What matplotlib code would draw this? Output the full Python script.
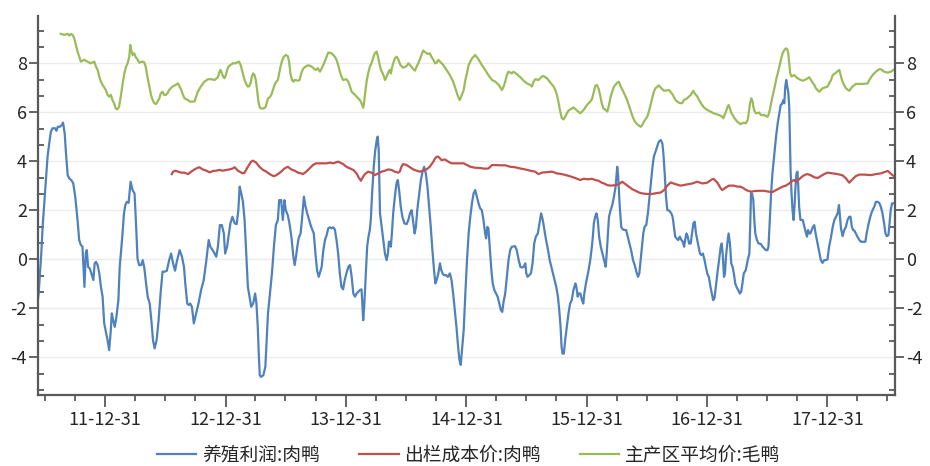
import matplotlib
matplotlib.use('Agg')
import matplotlib.pyplot as plt
from matplotlib.ticker import MultipleLocator
import matplotlib.dates as mdates
import numpy as np
import pandas as pd

plt.rcParams['font.family'] = ['Noto Sans CJK SC', 'DejaVu Sans']
plt.rcParams['axes.unicode_minus'] = False

# day offsets are counted from this date
start = pd.Timestamp('2011-06-04')

# 养殖利润:肉鸭
profit_day = [
    3, 8, 12, 16, 20, 25, 30, 35, 40, 45, 50, 58, 62, 66, 72, 78, 82, 87, 91, 96,
    101, 109, 113, 119, 126, 131, 136, 141, 144, 147, 151, 154, 158, 163, 168, 174, 178, 182, 187, 192,
    197, 202, 207, 212, 217, 222, 227, 230, 234, 239, 244, 250, 254, 261, 267, 271, 276, 281, 287, 293,
    299, 303, 308, 313, 319, 324, 329, 334, 339, 345, 350, 355, 360, 366, 372, 378, 384, 390, 397, 404,
    410, 416, 422, 427,
    431, 436, 443, 449, 453, 459, 463, 468, 473, 479, 486, 493, 501, 509, 517, 524, 529, 536, 542, 547,
    552, 558, 564, 570, 574, 580, 584, 590, 596, 603, 609, 614, 618, 623, 628, 633, 638, 643, 648, 653,
    659, 665, 669, 673, 676, 679, 683, 690, 696, 700, 704, 710, 716, 722, 728, 734, 738, 744, 749, 754,
    758, 764, 769, 775, 781, 785, 789, 793, 797, 803, 807, 813, 818, 823, 829, 835, 843, 848, 853, 858,
    867, 872, 877, 882, 887, 892, 897, 902, 907, 912, 917, 922, 927, 932, 937, 942, 948, 953, 958, 963,
    968, 973, 978, 983, 988, 993, 996, 1001, 1005, 1009, 1013, 1016, 1020, 1025, 1029, 1034, 1037, 1040, 1044, 1049,
    1054, 1059, 1064, 1068, 1071, 1074, 1077, 1080, 1084, 1089, 1094, 1098, 1102, 1107, 1112, 1118, 1125, 1130, 1135, 1140,
    1144, 1149, 1153, 1157, 1163, 1168, 1173, 1178, 1183, 1188, 1193, 1198, 1203, 1208, 1212, 1216, 1221, 1226, 1230, 1234,
    1238, 1244, 1250, 1256, 1261, 1266, 1271, 1276, 1281, 1285, 1289,
    1298, 1303, 1308, 1313, 1318, 1323, 1328, 1333, 1338, 1343, 1348, 1353, 1358, 1363, 1366, 1370, 1373, 1377, 1382, 1386,
    1391, 1396, 1401, 1406, 1411, 1415, 1419, 1424, 1429, 1434, 1439, 1444, 1454, 1459, 1465, 1470, 1475, 1480, 1485, 1488,
    1492, 1497, 1502, 1507, 1512, 1517, 1523, 1528, 1533, 1538, 1543, 1548, 1554, 1559, 1564, 1569, 1574, 1579, 1584, 1588,
    1592, 1595, 1598, 1602, 1606, 1611, 1616, 1621, 1626, 1631, 1637, 1640, 1644, 1647, 1652, 1657, 1661, 1664, 1669, 1673,
    1677, 1682, 1687, 1690, 1693, 1697, 1701, 1705, 1709, 1714, 1719,
    1724, 1729, 1732, 1736, 1739, 1744, 1749, 1754, 1759, 1764, 1767, 1771, 1776, 1781, 1786, 1791, 1796, 1801, 1806, 1812,
    1817, 1822, 1827, 1831, 1835, 1839, 1843, 1847, 1852, 1857, 1862, 1867, 1871, 1875, 1880, 1885, 1890, 1896, 1901, 1904,
    1908, 1912, 1916, 1922, 1928, 1932, 1936, 1940, 1944, 1949, 1954, 1959, 1963, 1967, 1970, 1974, 1978, 1982, 1987, 1991,
    1995, 1999, 2003, 2007, 2011, 2015, 2019, 2024, 2029, 2033, 2037, 2042, 2047, 2051, 2055, 2059, 2063, 2068, 2073, 2078,
    2081, 2084, 2088, 2091, 2094, 2098, 2102, 2106, 2110, 2114, 2118, 2122, 2126, 2131, 2136, 2140, 2144, 2148, 2154,
    2160, 2165, 2168, 2170, 2173, 2177, 2180, 2183, 2188, 2193, 2200, 2205, 2210, 2215, 2220, 2223, 2227, 2231, 2235, 2241,
    2246, 2251, 2256, 2260, 2264, 2268, 2271, 2274, 2277, 2280, 2283, 2286, 2288, 2290, 2293, 2296, 2299, 2302, 2305, 2308,
    2311, 2313, 2316, 2320, 2327, 2332, 2337, 2340, 2343, 2347, 2350, 2354, 2358, 2362, 2366, 2370, 2374, 2378, 2382, 2387,
    2392, 2397, 2402, 2407, 2413, 2418, 2423, 2428, 2433, 2437, 2440, 2443, 2448, 2453, 2458, 2463, 2468, 2472, 2476, 2480,
    2484, 2488, 2493, 2499, 2504, 2509, 2517, 2521, 2527, 2532, 2537, 2544, 2549, 2554, 2559, 2564, 2569, 2574, 2578, 2582,
    2587, 2590, 2594, 2598, 2602,
]
profit_val = [
    -1.93, -1.39, -0.57, 0.24, 1.33, 2.29, 3.24, 4.19, 4.73, 5.21, 5.35, 5.35, 5.25, 5.41, 5.41, 5.48, 5.58, 5.14, 4.33, 3.44,
    3.31, 3.20, 3.10, 2.56, 1.61, 0.79, 0.59, 0.52, -0.30, -1.12, 0.24, 0.38, -0.30, -0.37, -0.57, -0.84, -0.16, -0.10, -0.23, -0.57,
    -1.12, -1.52, -2.61, -2.95, -3.29, -3.70, -2.88, -2.20, -2.48, -2.75, -2.34, -1.66, -0.30, 0.79, 1.88, 2.22, 2.35, 2.31, 3.17, 2.83,
    2.69, 1.61, 0.04, -0.23, -0.23, -0.03, -0.37, -0.98, -1.52, -1.80, -2.48, -3.29, -3.63, -3.29, -2.48, -1.39, -0.50, -0.50, -0.46, -0.03,
    0.24, -0.16, -0.46, -0.10,
    0.11, 0.38, 0.11, -0.30, -0.98, -1.80, -1.86, -1.80, -1.93, -2.61, -2.20, -1.80, -1.25, -0.84, -0.03, 0.79, 0.52, 0.38, 0.24, 0.11,
    0.52, 1.40, 1.40, 1.06, 0.24, 0.52, 0.93, 1.47, 1.74, 1.47, 1.44, 2.01, 2.97, 2.69, 2.35, 1.61, 0.24, -1.12, -1.52, -1.93,
    -1.80, -1.39, -1.80, -2.75, -3.84, -4.72, -4.79, -4.72, -4.38, -3.29, -2.20, -1.39, -0.57, 0.52, 1.40, 1.61, 2.42, 2.42, 1.61, 2.42,
    2.01, 1.81, 1.47, 0.93, 0.11, -0.23, 0.11, 0.52, 0.86, 1.06, 1.61, 2.56, 2.15, 1.88, 1.61, 1.33, 1.06, 0.24, -0.44, -0.71,
    -0.30, 0.38, 0.79, 0.99, 1.27, 1.31, 1.27, 1.31, 1.22, 0.79, 0.24, -0.57, -1.12, -1.22, -0.84, -0.57, -0.30, -0.23, -0.71, -1.39,
    -1.52, -1.39, -1.32, -1.25, -1.22, -2.48, -1.93, -0.57, 0.52, 0.93, 1.20, 1.61, 2.69, 3.78, 4.39, 4.87, 5.01, 4.46, 1.88, 1.33,
    0.79, 0.24, -0.03, 0.24, 0.72, 0.72, 0.52, 1.06, 1.88, 2.56, 3.10, 3.24, 2.83, 2.15, 1.74, 1.47, 1.44, 1.61, 1.88, 2.01,
    1.61, 1.06, 1.33, 2.01, 2.69, 3.24, 3.58, 3.78, 3.51, 2.97, 2.15, 1.33, 0.38, -0.44, -0.98, -0.84, -0.57, -0.16, -0.44, -0.57,
    -0.64, -0.64, -0.71, -0.57, -0.84, -1.39, -2.07, -2.75, -3.56, -4.10, -4.30,
    -2.88, -1.39, -0.03, 1.06, 1.74, 2.29, 2.69, 2.83, 2.56, 2.29, 2.08, 2.01, 1.61, 1.06, 0.86, 1.33, 1.27, 0.52, -0.44, -0.98,
    -1.25, -1.39, -1.52, -1.80, -2.07, -2.14, -1.73, -1.39, -0.71, -0.03, 0.38, 0.52, 0.54, 0.38, -0.03, -0.30, -0.33, -0.30, -0.16, -0.57,
    -0.71, -0.64, -0.57, -0.16, 0.65, 0.93, 1.06, 1.47, 1.88, 1.61, 1.20, 0.79, 0.38, -0.03, -0.30, -0.57, -0.84, -1.12, -1.52, -2.07,
    -2.75, -3.56, -3.84, -3.84, -3.29, -2.75, -2.20, -1.80, -1.66, -1.25, -0.98, -1.12, -1.52, -1.39, -1.39, -1.66, -1.80, -1.39, -0.98, -0.71,
    -0.44, -0.03, 0.52, 0.93, 1.47, 1.74, 1.88, 1.61, 0.93, 0.52, 0.24,
    -0.03, -0.30, 0.24, 1.06, 1.74, 2.01, 2.22, 2.56, 2.97, 3.78, 3.37, 2.29, 1.33, 1.22, 1.20, 1.20, 0.93, 0.65, 0.38, -0.03,
    -0.23, -0.50, -0.71, -0.57, -0.03, 0.52, 1.06, 1.33, 1.40, 1.88, 2.56, 3.24, 3.78, 4.19, 4.39, 4.60, 4.80, 4.87, 4.73, 4.33,
    3.51, 2.56, 2.01, 1.99, 1.88, 1.74, 1.33, 0.93, 0.86, 0.79, 0.93, 0.79, 0.72, 0.52, 0.79, 1.06, 0.93, 0.65, 0.65, 1.06,
    1.47, 1.54, 1.06, 0.79, 0.52, 0.24, 0.18, 0.24, -0.03, -0.30, -0.57, -0.71, -1.12, -1.39, -1.66, -1.59, -1.12, -0.57, -0.03, 0.52,
    0.65, 0.24, -0.71, -0.57, 0.11, 0.65, 1.06, 0.65, -0.16, -0.30, -0.57, -0.98, -1.12, -1.25, -1.39, -1.32, -0.98, -0.57, -0.44,
    -0.03, 0.24, 1.61, 2.69, 2.69, 2.42, 1.61, 1.06, 0.79, 0.65, 0.63, 0.52, 0.45, 0.38, 0.38, 0.52, 1.61, 2.69, 3.51, 4.33,
    5.01, 5.55, 5.96, 6.30, 6.34, 6.50, 6.37, 7.05, 7.32, 7.05, 6.84, 6.23, 5.01, 3.65, 2.69, 2.01, 1.61, 2.15, 2.97, 3.51,
    3.58, 3.10, 2.15, 1.61, 1.61, 1.33, 1.06, 0.93, 1.20, 1.06, 1.06, 1.20, 1.33, 1.40, 1.06, 0.79, 0.52, 0.24, -0.03, -0.14,
    -0.03, -0.03, 0.00, 0.52, 0.93, 1.33, 1.61, 1.74, 1.88, 2.22, 1.74, 1.27, 0.95, 1.20, 1.33, 1.61, 1.74, 1.74, 1.33, 1.20,
    1.17, 1.06, 0.93, 0.79, 0.72, 0.72, 0.72, 1.06, 1.47, 1.74, 1.95, 2.15, 2.35, 2.35, 2.31, 2.15, 1.88, 1.47, 1.06, 0.95,
    0.99, 1.40, 2.01, 2.29, 2.29,
]

# 出栏成本价:肉鸭
cost_day = [
    412, 416, 422, 431, 441, 451, 461, 471, 481, 491, 496, 506, 517, 527, 537, 547, 557, 567, 577, 587,
    597, 603, 613, 623, 628, 633, 643, 653, 658, 668, 678, 689, 699, 709, 719, 724, 734, 744, 754, 764,
    775, 785, 795, 805, 810, 820, 830, 840, 850,
    862, 882, 892, 902, 917, 932, 942, 953, 963, 973, 978, 983, 986, 990, 998, 1008, 1018, 1028, 1039, 1049,
    1059, 1069, 1079, 1089, 1099, 1104, 1109, 1114, 1125, 1135, 1145, 1155, 1165, 1175, 1185, 1195, 1206, 1211, 1216, 1221,
    1231, 1241, 1251, 1261, 1276,
    1298, 1308, 1318, 1333, 1348, 1363, 1373, 1384, 1394, 1409, 1424, 1439, 1454, 1470, 1485, 1500, 1515, 1525, 1535, 1551,
    1566, 1581, 1596, 1611, 1626, 1642, 1652, 1662, 1677, 1687, 1697, 1707, 1717,
    1724, 1734, 1744, 1759, 1769, 1779, 1789, 1799, 1810, 1820, 1830, 1840, 1855, 1870, 1885, 1896, 1906, 1916, 1926, 1941,
    1956, 1976, 1992, 2007, 2022, 2037, 2052, 2057, 2068, 2078, 2083, 2093, 2103, 2118, 2128, 2138, 2148,
    2155, 2170, 2180, 2195, 2210, 2225, 2235, 2246, 2256, 2266, 2276, 2286, 2296, 2301, 2306, 2316, 2327, 2337, 2342, 2352,
    2362, 2372, 2382, 2392, 2402, 2418, 2433, 2448, 2458, 2468, 2478, 2488, 2499, 2514, 2534, 2549, 2564, 2579, 2585, 2590,
    2600, 2605,
]
cost_val = [
    3.48, 3.58, 3.62, 3.58, 3.54, 3.54, 3.48, 3.58, 3.67, 3.74, 3.76, 3.67, 3.62, 3.55, 3.61, 3.62, 3.65, 3.62, 3.65, 3.67,
    3.71, 3.76, 3.62, 3.54, 3.51, 3.54, 3.78, 3.99, 4.03, 3.95, 3.78, 3.65, 3.58, 3.48, 3.41, 3.40, 3.48, 3.58, 3.71, 3.78,
    3.67, 3.62, 3.54, 3.51, 3.48, 3.58, 3.71, 3.85, 3.92,
    3.92, 3.92, 3.95, 3.92, 3.99, 3.89, 3.78, 3.71, 3.65, 3.51, 3.37, 3.27, 3.21, 3.31, 3.48, 3.58, 3.54, 3.44, 3.51, 3.58,
    3.62, 3.67, 3.65, 3.58, 3.54, 3.58, 3.78, 3.89, 3.85, 3.76, 3.67, 3.62, 3.58, 3.62, 3.67, 3.78, 3.99, 4.12, 4.19, 4.19,
    4.05, 4.08, 3.99, 3.92, 3.92,
    3.92, 3.85, 3.78, 3.74, 3.73, 3.70, 3.71, 3.85, 3.85, 3.84, 3.84, 3.78, 3.76, 3.71, 3.67, 3.62, 3.58, 3.48, 3.54, 3.56,
    3.58, 3.51, 3.48, 3.43, 3.37, 3.29, 3.24, 3.29, 3.27, 3.29, 3.24, 3.21, 3.13,
    3.10, 3.03, 3.01, 3.03, 3.07, 3.17, 3.07, 2.97, 2.86, 2.80, 2.73, 2.69, 2.67, 2.67, 2.71, 2.73, 2.83, 3.01, 3.14, 3.07,
    3.01, 3.06, 3.10, 3.17, 3.10, 3.13, 3.27, 3.28, 3.13, 2.90, 2.83, 2.93, 3.01, 3.01, 2.97, 2.97, 2.90,
    2.83, 2.76, 2.79, 2.80, 2.80, 2.76, 2.75, 2.83, 2.90, 2.97, 3.01, 3.10, 3.21, 3.24, 3.17, 3.27, 3.40, 3.47, 3.48, 3.43,
    3.35, 3.32, 3.40, 3.48, 3.54, 3.51, 3.48, 3.43, 3.31, 3.13, 3.27, 3.40, 3.46, 3.46, 3.44, 3.48, 3.51, 3.58, 3.61, 3.55,
    3.43, 3.40,
]

# 主产区平均价:毛鸭
price_day = [
    75, 86, 96, 101, 106, 111, 116, 121, 126, 131, 136, 146, 156, 166, 177, 182, 187, 192, 197, 202,
    212, 217, 222, 227, 232, 237, 242, 247, 252, 258, 263, 268, 273, 278, 283, 286, 289, 293, 298, 303,
    308, 313, 323, 328, 333, 338, 344, 349, 354, 359, 364, 369, 374, 379, 384, 389, 394, 399, 404, 414,
    424,
    431, 441, 446, 451, 461, 466, 476, 481, 486, 491, 501, 511, 522, 532, 542, 552, 557, 560, 564, 568,
    572, 576, 580, 584, 590, 597, 605, 616, 621, 625, 629, 633, 638, 643, 647, 651, 655, 659, 663, 667,
    671, 675, 679, 683, 690, 696, 700, 704, 709, 714, 719, 724, 729, 734, 738, 742, 746, 752, 758, 764,
    768, 772, 777, 781, 785, 795, 800, 805, 810, 815, 821, 827, 833, 839, 845, 850, 855,
    862, 872, 882, 887, 897, 907, 912, 917, 922, 927, 932, 942, 948, 953, 958, 968, 978, 983, 988, 993,
    996, 1000, 1004, 1008, 1013, 1018, 1023, 1028, 1034, 1038, 1042, 1047, 1052, 1056, 1059, 1062, 1066, 1070, 1074, 1077,
    1080, 1084, 1089, 1094, 1098, 1102, 1106, 1114, 1125, 1130, 1135, 1145, 1150, 1155, 1160, 1165, 1170, 1175, 1185, 1190,
    1195, 1200, 1206, 1211, 1216, 1221, 1226, 1236, 1246, 1256, 1266, 1271, 1276, 1281, 1286,
    1298, 1303, 1308, 1313, 1318, 1323, 1333, 1343, 1353, 1363, 1373, 1384, 1394, 1404, 1414, 1419, 1424, 1429, 1434, 1444,
    1449, 1459, 1470, 1480, 1490, 1500, 1505, 1510, 1515, 1525, 1535, 1540, 1551, 1561, 1571, 1576, 1581, 1586, 1591, 1596,
    1601, 1606, 1611, 1616, 1626, 1631, 1642, 1652, 1662, 1672, 1682, 1687, 1692, 1697, 1702, 1707, 1712, 1717, 1722,
    1729, 1734, 1739, 1744, 1749, 1754, 1764, 1769, 1774, 1784, 1794, 1804, 1810, 1815, 1820, 1825, 1835, 1840, 1845, 1855,
    1860, 1865, 1870, 1875, 1880, 1890, 1901, 1906, 1921, 1931, 1941, 1951, 1961, 1966, 1976, 1987, 1995, 1999, 2007, 2017,
    2027, 2037, 2047, 2057, 2073, 2083, 2086, 2090, 2094, 2098, 2102, 2106, 2110, 2118, 2128, 2138, 2148, 2154,
    2160, 2163, 2167, 2171, 2175, 2177, 2180, 2185, 2195, 2200, 2210, 2220, 2223, 2227, 2231, 2235, 2241, 2246, 2251, 2256,
    2261, 2266, 2271, 2276, 2280, 2283, 2286, 2289, 2293, 2301, 2311, 2321, 2327, 2337, 2347, 2352, 2357, 2362, 2367, 2377,
    2387, 2402, 2407, 2413, 2418, 2428, 2438, 2442, 2446, 2450, 2458, 2468, 2478, 2488, 2509, 2524, 2529, 2539, 2549, 2559,
    2564, 2574, 2585, 2595, 2605,
]
price_val = [
    9.20, 9.16, 9.20, 9.13, 9.20, 9.16, 9.02, 8.75, 8.48, 8.27, 8.07, 8.14, 8.07, 8.00, 8.07, 7.86, 7.73, 7.46, 7.25, 7.12,
    6.91, 6.71, 6.64, 6.71, 6.50, 6.37, 6.16, 6.12, 6.23, 6.71, 7.18, 7.59, 7.86, 8.00, 8.27, 8.75, 8.54, 8.34, 8.41, 8.24,
    8.16, 8.03, 8.07, 8.05, 7.86, 7.46, 7.05, 6.71, 6.50, 6.37, 6.34, 6.44, 6.57, 6.78, 6.84, 6.71, 6.71, 6.78, 6.91, 7.05,
    7.12,
    7.18, 6.91, 6.71, 6.57, 6.50, 6.44, 6.44, 6.44, 6.64, 6.84, 7.07, 7.25, 7.35, 7.35, 7.32, 7.43, 7.66, 7.73, 7.59, 7.46,
    7.39, 7.52, 7.73, 7.86, 7.93, 8.00, 8.00, 8.07, 7.93, 7.73, 7.52, 7.32, 7.16, 7.05, 7.07, 7.18, 7.46, 7.59, 7.52, 7.32,
    6.91, 6.44, 6.20, 6.16, 6.16, 6.20, 6.37, 6.57, 6.61, 6.71, 6.91, 7.12, 7.25, 7.32, 7.59, 7.86, 8.07, 8.27, 8.34, 8.30,
    8.07, 7.59, 7.32, 7.25, 7.32, 7.29, 7.32, 7.59, 7.76, 7.84, 7.89, 7.92, 7.89, 7.84, 7.76, 7.73, 7.80,
    7.66, 7.93, 8.27, 8.44, 8.41, 8.27, 8.14, 7.93, 7.66, 7.46, 7.32, 7.35, 7.25, 7.05, 6.84, 6.71, 6.57, 6.50, 6.37, 6.19,
    6.44, 6.91, 7.32, 7.59, 7.86, 8.00, 8.20, 8.41, 8.48, 8.27, 8.00, 7.73, 7.59, 7.46, 7.32, 7.39, 7.52, 7.66, 7.73, 7.59,
    7.80, 8.00, 8.20, 8.27, 8.20, 8.07, 7.93, 7.82, 7.89, 8.00, 7.93, 7.76, 7.70, 7.86, 8.00, 8.16, 8.34, 8.52, 8.41, 8.38,
    8.41, 8.27, 8.14, 8.00, 8.03, 8.14, 8.07, 7.93, 7.73, 7.52, 7.25, 7.05, 6.84, 6.64, 6.50,
    6.91, 7.32, 7.59, 7.93, 8.07, 8.20, 8.34, 8.16, 7.93, 7.73, 7.52, 7.32, 7.25, 7.12, 6.91, 7.05, 7.25, 7.52, 7.66, 7.59,
    7.66, 7.56, 7.43, 7.29, 7.18, 7.12, 7.05, 7.25, 7.35, 7.32, 7.46, 7.48, 7.39, 7.21, 7.05, 6.91, 6.71, 6.39, 6.03, 5.76,
    5.71, 5.82, 5.96, 6.07, 6.16, 6.20, 6.07, 5.96, 6.10, 6.30, 6.44, 6.53, 6.78, 7.07, 7.12, 6.98, 6.71, 6.37, 6.16,
    6.10, 6.03, 6.30, 6.64, 6.84, 7.05, 7.21, 7.25, 7.07, 6.80, 6.50, 6.10, 5.85, 5.69, 5.58, 5.51, 5.41, 5.48, 5.62, 5.82,
    6.03, 6.30, 6.57, 6.84, 6.98, 7.10, 6.94, 6.88, 6.91, 6.75, 6.50, 6.39, 6.37, 6.50, 6.57, 6.71, 6.88, 6.78, 6.64, 6.39,
    6.20, 6.10, 6.03, 5.96, 5.89, 5.82, 5.76, 5.89, 6.03, 6.20, 6.30, 6.16, 5.99, 5.80, 5.62, 5.52, 5.58, 5.55,
    5.69, 5.96, 6.37, 6.57, 6.44, 6.23, 6.07, 5.96, 5.99, 5.89, 5.89, 5.82, 5.89, 6.10, 6.37, 6.64, 6.98, 7.32, 7.59, 7.86,
    8.16, 8.41, 8.54, 8.61, 8.57, 8.41, 8.00, 7.59, 7.46, 7.52, 7.39, 7.32, 7.29, 7.35, 7.43, 7.32, 7.21, 7.12, 6.98, 6.84,
    6.98, 7.05, 7.18, 7.32, 7.52, 7.62, 7.73, 7.52, 7.32, 7.18, 6.98, 6.88, 7.05, 7.16, 7.16, 7.18, 7.32, 7.52, 7.66, 7.76,
    7.76, 7.66, 7.62, 7.66, 7.76,
]

series_names = ['养殖利润:肉鸭', '出栏成本价:肉鸭', '主产区平均价:毛鸭']
series_colors = ['#4f81bd', '#c0504d', '#9bbb59']
label_years = list(range(2011, 2018))


def to_dates(days):
    return start + pd.to_timedelta(np.asarray(days), unit='D')


fig = plt.figure(figsize=(9.3, 4.66), dpi=100)
ax = fig.add_axes([38 / 930, 71 / 466, 857 / 930, 379 / 466])

series = [(profit_day, profit_val), (cost_day, cost_val), (price_day, price_val)]
lines = []
for (d, v), name, c in zip(series, series_names, series_colors):
    ln, = ax.plot(to_dates(d), v, color=c, lw=1.6, label=name, solid_joinstyle='round')
    lines.append(ln)

x_lo, x_hi = to_dates([6, 2607])
ax.set_xlim(x_lo, x_hi)
ax.set_ylim(-5.53, 9.93)

# y axis: labels on both sides
ax.set_yticks(np.arange(-4, 9, 2))
ax.yaxis.set_minor_locator(MultipleLocator(2 / 3))
ax.yaxis.grid(True, which='major', color='#ececec', lw=1.0)
ax.set_axisbelow(True)

# x axis: yearly labels, quarterly minor ticks
majors = [pd.Timestamp(f'{y}-12-31') for y in label_years]
minors = []
for y in range(2011, 2019):
    for md in ['03-31', '06-30', '09-30', '12-31']:
        t = pd.Timestamp(f'{y}-{md}')
        if x_lo <= t <= x_hi:
            minors.append(t)
ax.set_xticks(majors)
ax.set_xticks(minors, minor=True)
ax.xaxis.set_major_formatter(mdates.DateFormatter('%y-%m-%d'))

spine_c = '#595959'
for s in ['left', 'right', 'bottom']:
    ax.spines[s].set_color(spine_c)
    ax.spines[s].set_linewidth(1.6)
ax.spines['top'].set_visible(False)

ax.tick_params(axis='y', which='major', direction='out', length=6.5, width=1.3,
               left=True, right=True, labelleft=True, labelright=True,
               pad=1.5, labelsize=13, color=spine_c, labelcolor='#262626')
ax.tick_params(axis='y', which='minor', direction='in', length=4.5, width=1.3,
               left=True, right=True, color=spine_c)
ax.tick_params(axis='x', which='major', direction='out', length=8.5, width=1.3,
               pad=3, labelsize=13, color=spine_c, labelcolor='#262626')
ax.tick_params(axis='x', which='minor', direction='out', length=4, width=1.3, color=spine_c)

fig.legend(lines, series_names, loc='center', bbox_to_anchor=(0.504, 1 - 455 / 466), ncol=3,
           frameon=False, fontsize=13.5, handlelength=2.1, handletextpad=0.3,
           columnspacing=2.1, labelcolor='#262626', borderpad=0.2)

fig.savefig('out.png', dpi=100)
